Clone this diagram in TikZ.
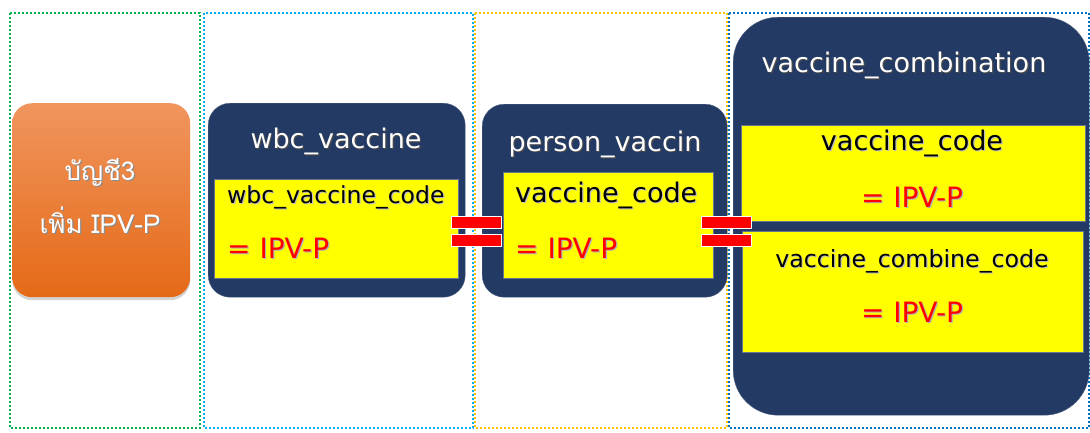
\documentclass[tikz,border=0pt]{standalone}
\usepackage{fontspec}
\setmainfont{DejaVu Sans}
\newfontfamily\thaifont[Script=Thai]{Loma}
\usetikzlibrary{positioning,shadows}

\definecolor{navy}{HTML}{233A64}
\definecolor{fieldyellow}{HTML}{FFFF00}
\definecolor{framegreen}{HTML}{00B050}
\definecolor{framecyan}{HTML}{00B0F0}
\definecolor{frameorange}{HTML}{FFC000}
\definecolor{frameblue}{HTML}{0070C0}
\definecolor{accttop}{HTML}{F0955E}
\definecolor{acctbot}{HTML}{E56A17}

% text with a soft shadow below right
\newcommand\shadowtxt[2]{\rlap{\kern1.2pt\raisebox{-1.2pt}{\textcolor{#1}{#2}}}#2}

\begin{document}
\begin{tikzpicture}[x=1pt,y=-1pt,
  frame/.style={line width=2.4pt, dash pattern=on 2pt off 2pt},
  tablebox/.style={fill=navy, draw=navy!80!white, rounded corners=22pt, anchor=north west, inner sep=0pt},
  fieldbox/.style={fill=fieldyellow, draw=navy!70!white, anchor=north west, inner sep=0pt},
  tabletitle/.style={text=white, font=\fontsize{27}{30}\selectfont, anchor=base},
  fieldname/.style={text=black, font=\fontsize{#1}{30}\selectfont},
  fieldname/.default=27,
  fieldvalue/.style={text=red, font=\fontsize{28}{32}\selectfont},
  eqbar/.style={fill=red, draw=white, line width=1pt, minimum width=50pt, minimum height=12pt, inner sep=0pt}
]
\useasboundingbox (0,0) rectangle (1090,432);

% dotted frames
\draw[frame, framegreen] (10,13) rectangle (200,428);
\draw[frame, framecyan] (204,13) rectangle (473,428);
\draw[frame, frameorange] (475,13) rectangle (727,428);
\draw[frame, frameblue] (729,13) rectangle (1089,428);

% account box
\node[rounded corners=20pt, top color=accttop, bottom color=acctbot, drop shadow={opacity=0.35, shadow xshift=0pt, shadow yshift=-3pt},
  minimum width=178pt, minimum height=194pt, anchor=north west, inner sep=0pt] (acct) at (12,103) {};
\node[text=white, font=\thaifont\fontsize{26}{30}\selectfont, anchor=base] (acctA) at (100,180) {\shadowtxt{black!45}{บัญชี3}};
\node[text=white, font=\thaifont\fontsize{26}{30}\selectfont, anchor=base] (acctB) at (100,233) {\shadowtxt{black!45}{เพิ่ม IPV-P}};

% wbc_vaccine
\node[tablebox, minimum width=257pt, minimum height=194pt] (wbc) at (208,103) {};
\node[tabletitle] (wbctitle) at (336,148) {\shadowtxt{black!70}{wbc\_vaccine}};
\node[fieldbox, minimum width=244pt, minimum height=99pt] (wbccode) at (214,179) {};
\node[fieldname=23.5, anchor=base west, inner sep=0pt] (wbcname) at (227,203) {\shadowtxt{black!25}{wbc\_vaccine\_code}};
\node[fieldvalue, anchor=base west, inner sep=0pt] (wbcval) at (227,258) {\shadowtxt{black!30}{= IPV-P}};

% person_vaccin
\node[tablebox, minimum width=245pt, minimum height=193pt] (person) at (482,104) {};
\node[tabletitle] (persontitle) at (605,151) {\shadowtxt{black!70}{person\_vaccin}};
\node[fieldbox, minimum width=210pt, minimum height=106pt] (personcode) at (503,172) {};
\node[fieldname, anchor=base west, inner sep=0pt] (personname) at (515,202) {\shadowtxt{black!25}{vaccine\_code}};
\node[fieldvalue, anchor=base west, inner sep=0pt] (personval) at (515,258) {\shadowtxt{black!30}{= IPV-P}};

% vaccine_combination
\node[tablebox, rounded corners=45pt, minimum width=356pt, minimum height=398pt] (combo) at (733,17) {};
\node[tabletitle] (combotitle) at (904,72) {\shadowtxt{black!70}{vaccine\_combination}};
\node[fieldbox, minimum width=344pt, minimum height=96pt] (combocode) at (741,125) {};
\node[fieldname, anchor=base] (comboname) at (912,150) {\shadowtxt{black!25}{vaccine\_code}};
\node[fieldvalue, anchor=base] (comboval) at (912,207) {\shadowtxt{black!30}{= IPV-P}};
\node[fieldbox, minimum width=341pt, minimum height=121pt] (combinecode) at (742,231) {};
\node[fieldname=23.7, anchor=base] (combinename) at (912,267) {\shadowtxt{black!25}{vaccine\_combine\_code}};
\node[fieldvalue, anchor=base] (combineval) at (912,322) {\shadowtxt{black!30}{= IPV-P}};

% equal signs
\node[eqbar] (eqAtop) at (476,222) {};
\node[eqbar] (eqAbot) at (476,240) {};
\node[eqbar] (eqBtop) at (726,222) {};
\node[eqbar] (eqBbot) at (726,240) {};

\end{tikzpicture}
\end{document}
